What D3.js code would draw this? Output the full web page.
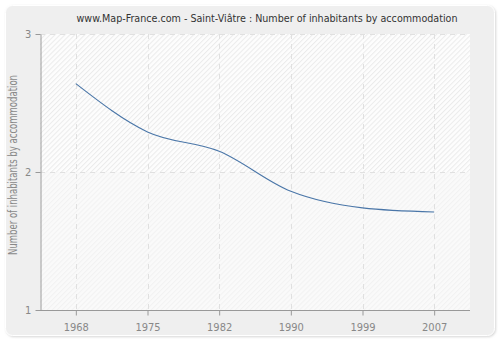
<!DOCTYPE html>
<html><head><meta charset="utf-8">
<script src="https://cdn.jsdelivr.net/npm/d3@7"></script>
<style>body{margin:0;background:#fff}svg{display:block}</style>
</head><body><div id="chart"></div>
<script>
const title = "www.Map-France.com - Saint-Viâtre : Number of inhabitants by accommodation";
const yLabel = "Number of inhabitants by accommodation";
const years = ["1968","1975","1982","1990","1999","2007"];
const values = [2.64, 2.29, 2.15, 1.86, 1.74, 1.71];
const yTicks = [1, 2, 3];

(function(){
const W = 500, H = 340;
const svg = d3.select("#chart").append("svg").attr("width", W).attr("height", H);
const font = "'DejaVu Sans Condensed', 'DejaVu Sans', Verdana, sans-serif";

const defs = svg.append("defs");
const f = defs.append("filter").attr("id","sh").attr("x","-5%").attr("y","-5%").attr("width","110%").attr("height","110%");
f.append("feDropShadow").attr("dx",1).attr("dy",1).attr("stdDeviation",1).attr("flood-color","#bbb").attr("flood-opacity",0.6);

function hatch(id, bg, color) {
  const s = 3.5;
  const p = defs.append("pattern").attr("id", id).attr("patternUnits","userSpaceOnUse")
    .attr("width", s).attr("height", s).attr("patternTransform","rotate(45)");
  p.append("rect").attr("width",s).attr("height",s).attr("fill",bg);
  p.append("line").attr("x1",0.5).attr("y1",0).attr("x2",0.5).attr("y2",s).attr("stroke",color).attr("stroke-width",1);
}
hatch("h1", "#fdfdfd", "#ebebeb");
hatch("h2", "#fafafa", "#f2f2f2");

svg.append("rect").attr("x",5.5).attr("y",5.5).attr("width",489).attr("height",330).attr("rx",7)
  .attr("fill","#efefef").attr("stroke","#fff").attr("stroke-width",1).attr("filter","url(#sh)");

const pl = 40, pr = 470, pt = 34, pb = 310;
const x = d3.scalePoint().domain(years).range([pl, pr]).padding(0.5);
const y = d3.scaleLinear().domain([1, 3]).range([pb, pt]);

svg.append("rect").attr("x",pl).attr("y",pt).attr("width",pr-pl).attr("height",y(2)-pt).attr("fill","url(#h1)");
svg.append("rect").attr("x",pl).attr("y",y(2)).attr("width",pr-pl).attr("height",pb-y(2)).attr("fill","url(#h2)");

const grid = svg.append("g").attr("stroke","#e0e0e0").attr("stroke-dasharray","5,5").attr("stroke-width",1);
years.forEach(d => grid.append("line").attr("x1",Math.round(x(d))+0.5).attr("x2",Math.round(x(d))+0.5).attr("y1",pt).attr("y2",pb));
yTicks.forEach(v => grid.append("line").attr("x1",pl).attr("x2",pr).attr("y1",Math.round(y(v))+0.5).attr("y2",Math.round(y(v))+0.5));

const xa = svg.append("g").attr("transform",`translate(0,${pb+0.5})`)
  .call(d3.axisBottom(x).tickSize(5).tickSizeOuter(0));
const ya = svg.append("g").attr("transform",`translate(${pl+0.5},0)`)
  .call(d3.axisLeft(y).tickValues(yTicks).tickFormat(d3.format("d")).tickSize(5).tickSizeOuter(0));
[xa, ya].forEach(a => {
  a.select(".domain").attr("stroke","#999");
  a.selectAll(".tick line").attr("stroke","#999");
  a.selectAll("text").attr("fill","#888").attr("font-family",font).attr("font-size",11);
});
xa.select(".domain").attr("d", `M${pl},0H${pr}`);
xa.selectAll(".tick text").attr("dy","1.1em");
ya.selectAll(".tick text").attr("dx","-0.1em");

svg.append("path").datum(values)
  .attr("d", d3.line().x((d,i) => x(years[i])).y(d => y(d)).curve(d3.curveMonotoneX))
  .attr("fill","none").attr("stroke","#4a76a8").attr("stroke-width",1.1);

svg.append("text").attr("x",267).attr("y",22).attr("text-anchor","middle")
  .attr("font-family",font).attr("font-size",11).attr("fill","#333")
  .attr("textLength",381).attr("lengthAdjust","spacingAndGlyphs").text(title);
svg.append("text").attr("transform",`translate(17,165) rotate(-90)`).attr("text-anchor","middle")
  .attr("font-family",font).attr("font-size",11.5).attr("fill","#888")
  .attr("textLength",180).attr("lengthAdjust","spacingAndGlyphs").text(yLabel);
})();
</script></body></html>
